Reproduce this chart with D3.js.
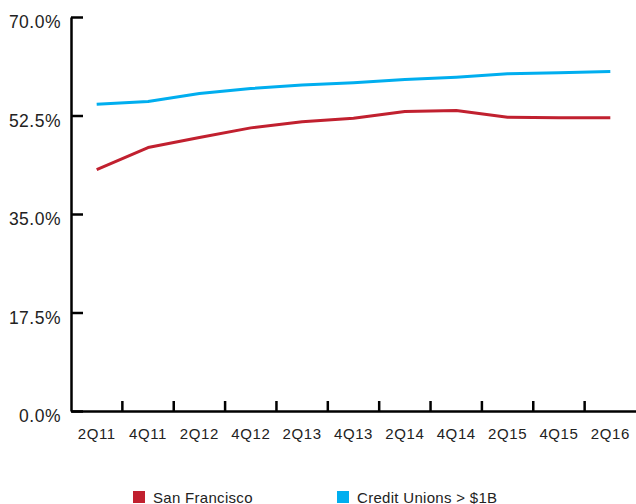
<!DOCTYPE html>
<html>
<head>
<meta charset="utf-8">
<script src="https://cdn.jsdelivr.net/npm/d3@7"></script>
<style>
  html, body { margin: 0; padding: 0; background: #fff; }
  svg { display: block; font-family: "Liberation Sans", Arial, sans-serif; }
</style>
</head>
<body>
<svg id="chart" width="636" height="504"></svg>
<script>
// Quarterly ratio, San Francisco vs. credit unions with assets over $1B
const quarters = ["2Q11", "4Q11", "2Q12", "4Q12", "2Q13", "4Q13", "2Q14", "4Q14", "2Q15", "4Q15", "2Q16"];
const sanFrancisco = [42.9, 46.8, 48.6, 50.3, 51.4, 52.0, 53.2, 53.4, 52.2, 52.1, 52.1];
const creditUnions = [54.5, 55.0, 56.4, 57.3, 57.9, 58.3, 58.9, 59.3, 59.9, 60.1, 60.3];
const yTicks = [0, 17.5, 35, 52.5, 70];

const seriesList = [
  { name: "San Francisco", values: sanFrancisco, color: "#C1202F" },
  { name: "Credit Unions > $1B", values: creditUnions, color: "#00AEEF" }
];

const svg = d3.select("#chart");
const plot = { left: 71, right: 636, top: 17, bottom: 411 };

const x = d3.scaleBand().domain(quarters).range([plot.left, plot.right]);
const y = d3.scaleLinear().domain([0, 70]).range([plot.bottom, plot.top]);

// Y axis: ticks point into the plot area
const yAxis = svg.append("g")
  .attr("transform", `translate(${plot.left},0)`)
  .call(d3.axisLeft(y).tickValues(yTicks).tickSizeInner(-12).tickSizeOuter(0)
    .tickPadding(10).tickFormat(d => d.toFixed(1) + "%"));
yAxis.select(".domain").attr("stroke", "#000").attr("stroke-width", 2.5);
yAxis.selectAll(".tick line").attr("stroke", "#000").attr("stroke-width", 2.5);
yAxis.selectAll(".tick text")
  .attr("font-size", 17.5).attr("letter-spacing", 0.5)
  .attr("fill", "#222").attr("dy", "0.6em");

// X axis: labels centred in each band, tick marks on band boundaries
const xAxis = svg.append("g")
  .attr("transform", `translate(0,${plot.bottom})`)
  .call(d3.axisBottom(x).tickSize(0).tickPadding(17));
xAxis.select(".domain").attr("stroke", "#000").attr("stroke-width", 2.5);
xAxis.selectAll(".tick text")
  .attr("font-size", 15).attr("letter-spacing", 0.6).attr("fill", "#222");

svg.append("g").selectAll("line")
  .data(quarters.slice(1))
  .join("line")
  .attr("x1", d => x(d)).attr("x2", d => x(d))
  .attr("y1", plot.bottom).attr("y2", plot.bottom - 10)
  .attr("stroke", "#000").attr("stroke-width", 2.5);

// Series lines
const line = d3.line()
  .x((d, i) => x(quarters[i]) + x.bandwidth() / 2)
  .y(d => y(d));

svg.append("g").selectAll("path")
  .data(seriesList)
  .join("path")
  .attr("d", s => line(s.values))
  .attr("fill", "none")
  .attr("stroke", s => s.color)
  .attr("stroke-width", 3)
  .attr("stroke-linejoin", "round");

// Legend
const legendX = [133, 337];
const legend = svg.append("g").selectAll("g")
  .data(seriesList)
  .join("g")
  .attr("transform", (s, i) => `translate(${legendX[i]},491)`);
legend.append("rect").attr("width", 12).attr("height", 12).attr("fill", s => s.color);
legend.append("text")
  .attr("x", 20).attr("y", 11.5)
  .attr("font-size", 15).attr("letter-spacing", 0.3).attr("fill", "#222")
  .text(s => s.name);
</script>
</body>
</html>
